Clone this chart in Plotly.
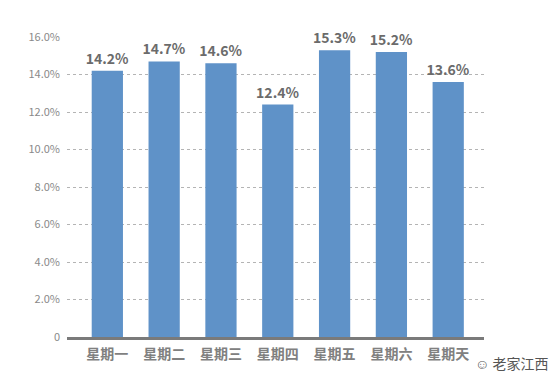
import plotly.graph_objects as go

categories = ["星期一", "星期二", "星期三", "星期四", "星期五", "星期六", "星期天"]
values = [14.2, 14.7, 14.6, 12.4, 15.3, 15.2, 13.6]
y_tick_vals = [0, 2, 4, 6, 8, 10, 12, 14, 16]
y_tick_text = ["0", "2.0%", "4.0%", "6.0%", "8.0%", "10.0%", "12.0%", "14.0%", "16.0%"]

font_family = "Noto Sans CJK SC, Noto Sans, sans-serif"

fig = go.Figure()
fig.add_trace(go.Bar(
    x=list(range(len(categories))),
    y=values,
    width=0.55,
    marker=dict(color="#5f92c8", line=dict(width=0)),
    text=[f"{v:.1f}%" for v in values],
    textposition="outside",
    constraintext="none",
    textfont=dict(size=14, color="#6b6b6b", family=font_family, weight="bold"),
    cliponaxis=False,
))

fig.update_layout(
    width=554, height=384,
    margin=dict(l=67, r=70, t=37, b=47),
    paper_bgcolor="white", plot_bgcolor="white",
    showlegend=False,
    font=dict(family=font_family),
    xaxis=dict(
        range=[-0.71, 6.63],
        tickvals=list(range(len(categories))),
        ticktext=categories,
        tickfont=dict(size=14, color="#808080", family=font_family, weight="bold"),
        showgrid=False, zeroline=False,
        showline=True, linecolor="#7a7a7a", linewidth=2.5,
        ticks="", ticklabelstandoff=2,
    ),
    yaxis=dict(
        range=[0, 16],
        tickvals=y_tick_vals,
        ticktext=y_tick_text,
        tickfont=dict(size=11, color="#8a8a8a", family=font_family),
        showgrid=True, gridcolor="#b4b4b4", griddash="dot", gridwidth=1,
        zeroline=False, showline=False, ticks="",
        ticklabelstandoff=6,
    ),
)

# watermark
fig.add_annotation(
    x=1.0, y=0, xref="paper", yref="paper", xanchor="right", yanchor="top",
    xshift=66, yshift=-14,
    text="☺ 老家江西", showarrow=False,
    font=dict(size=14, color="#555555", family=font_family),
)

fig.write_html("out.html")
